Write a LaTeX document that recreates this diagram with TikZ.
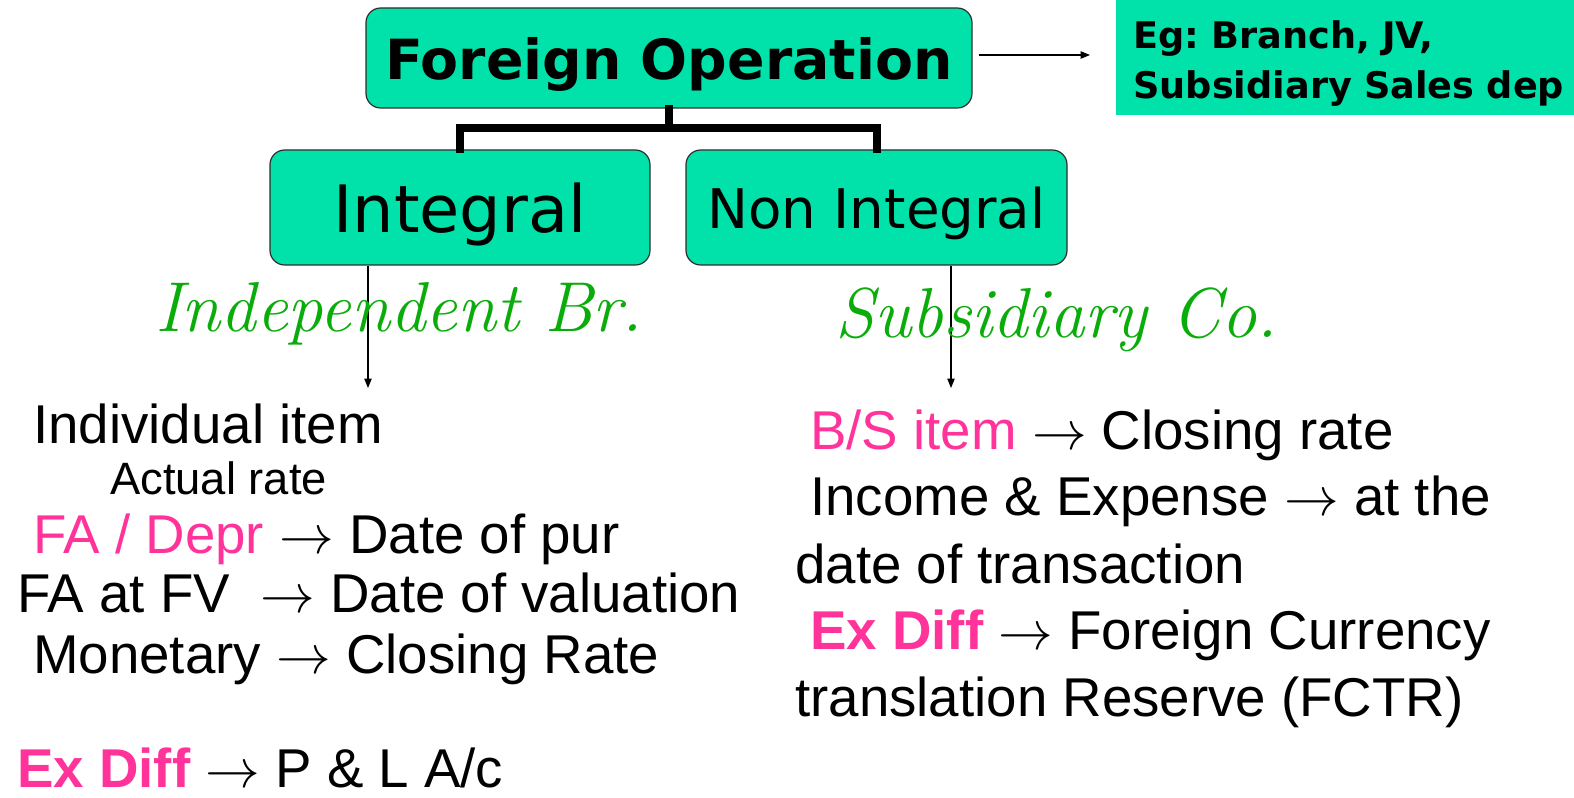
\documentclass[tikz,border=0pt]{standalone}
\usepackage{fix-cm}
\usepackage{amsmath}
\usepackage{fontspec}
\usepackage{tikz}
\usetikzlibrary{positioning,arrows.meta}
\newfontfamily\arialfont{Liberation Sans}
\newfontfamily\boxfont{DejaVu Sans}
\definecolor{opgreen}{RGB}{0,226,170}
\definecolor{boxedge}{RGB}{45,45,45}
\definecolor{itempink}{RGB}{255,51,153}
\definecolor{pengreen}{RGB}{10,172,10}

\tikzset{
  opbox/.style={draw=boxedge, line width=0.9pt, fill=opgreen, rounded corners=11pt, inner sep=0pt, text depth=0pt},
  stem/.style={line width=6pt, line cap=rect},
  pointer/.style={-{Triangle[length=7pt,width=5.5pt]}, line width=0.8pt},
  itemtext/.style={anchor=base west, inner sep=0pt, font=\arialfont\fontsize{41}{49}\selectfont},
  pentext/.style={anchor=base west, inner sep=0pt, text=pengreen, font=\itshape\fontsize{53}{60}\selectfont},
}

\begin{document}
\begin{tikzpicture}[x=0.75pt,y=0.75pt,yscale=-1,xscale=1]
\path[use as bounding box] (0,0) rectangle (1574,798);

%Shape: Rounded Rect
\node[opbox, minimum width=454.5pt, minimum height=75pt, font=\boxfont\bfseries\fontsize{41.5}{49}\selectfont] (fo) at (669,58) {Foreign Operation};
%Shape: Rounded Rect
\node[opbox, minimum width=285pt, minimum height=86.25pt, font=\boxfont\fontsize{49}{56}\selectfont] (int) at (460,207.5) {Integral};
%Shape: Rounded Rect
\node[opbox, minimum width=285.75pt, minimum height=86.25pt, font=\boxfont\fontsize{41}{49}\selectfont] (nonint) at (876.5,207.5) {Non Integral};
%Shape: Rectangle
\node[anchor=north west, fill=opgreen, minimum width=343.5pt, minimum height=86.25pt, inner xsep=12.75pt, inner ysep=0pt, text width=330pt, align=left, font=\boxfont\bfseries\fontsize{27.5}{37.5}\selectfont] (eg) at (1116,0) {\frenchspacing\rule{0pt}{36pt}Eg: Branch, JV,\\Subsidiary Sales dep\rule[-12.75pt]{0pt}{0pt}};

%Straight Lines
\coordinate (fork) at (669,128);
\draw[stem] (fo.south) -- (fork);
\draw[stem] (int.north) |- (fork) -| (nonint.north);

%Straight Lines
\coordinate (egtip) at (1090,55);
\draw[pointer] (fo.east |- egtip) ++(6,0) -- (egtip);
\coordinate (intend) at (368,388);
\draw[pointer] (int.south -| intend) -- (intend);
\coordinate (nonintend) at (951,388);
\draw[pointer] (nonint.south -| nonintend) -- (nonintend);

%Handwriting
\node[pentext] (indep) at (155,332) {Independent Br.};
\node[pentext] (subco) at (835,338) {Subsidiary Co.};

%Left column
\node[itemtext] (indiv) at (33,443) {Individual item};
\node[itemtext, text depth=0pt, font=\arialfont\fontsize{34}{40}\selectfont] (actual) at (110,494) {Actual rate};
\node[itemtext] (fadepr) at (33,553) {\textcolor{itempink}{FA / Depr} $\rightarrow$ Date of pur};
\node[itemtext] (fafv) at (17,612) {FA at FV\ \ $\rightarrow$ Date of valuation};
\node[itemtext] (monetary) at (33,673) {Monetary $\rightarrow$ Closing Rate};
\node[itemtext] (exleft) at (17,787) {\textcolor{itempink}{\bfseries Ex Diff} $\rightarrow$ P \& L A/c};

%Right column
\node[itemtext] (bs) at (810,450) {\textcolor{itempink}{B/S item} $\rightarrow$ Closing rate};
\node[itemtext] (income) at (810,515) {Income \& Expense $\rightarrow$ at the};
\node[itemtext] (date) at (795,583) {date of transaction};
\node[itemtext] (exright) at (810,649) {\textcolor{itempink}{\bfseries Ex Diff} $\rightarrow$ Foreign Currency};
\node[itemtext] (fctr) at (795,716) {translation Reserve (FCTR)};

\end{tikzpicture}
\end{document}
